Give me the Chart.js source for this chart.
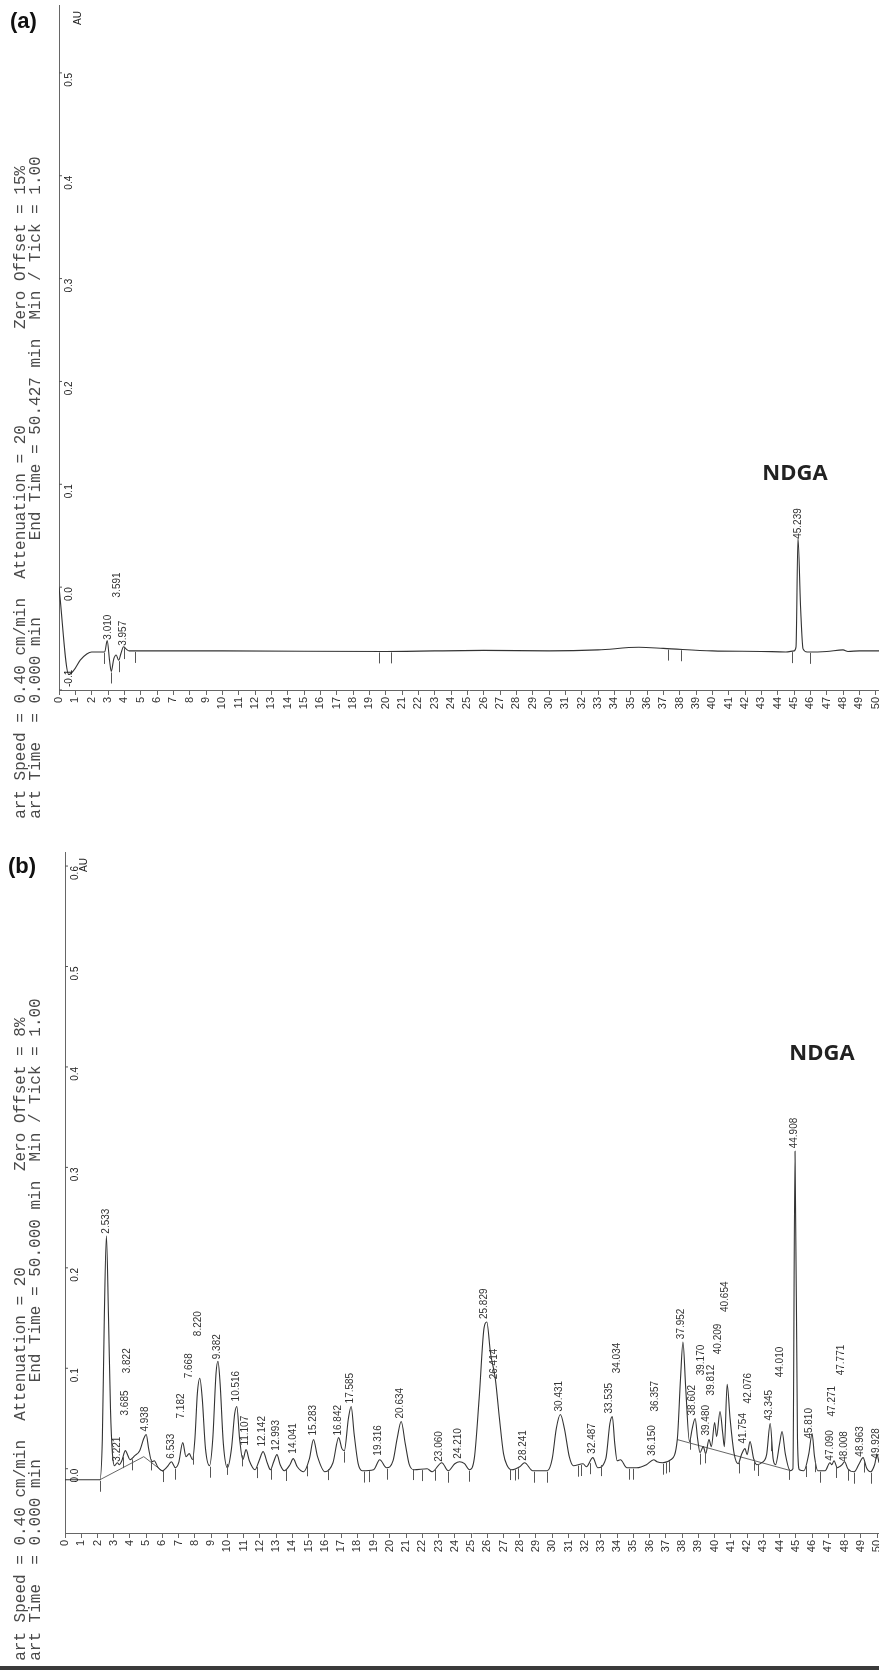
<!DOCTYPE html>
<html><head>
<meta charset="utf-8">
<title>HPLC chromatograms (a) and (b)</title>
<script src="https://cdn.jsdelivr.net/npm/chart.js@4.4.1/dist/chart.umd.min.js"></script>
<style>
  html, body { margin:0; padding:0; background:#fff }
  body { width:879px; height:1670px; position:relative; overflow:hidden }
  canvas { position:absolute; left:0 }
  .panel { position:absolute; left:0; width:879px; overflow:hidden }
  .hdr { position:absolute; white-space:pre; font:16px/16px "Liberation Mono", monospace; color:#4a4a4a;
         transform-origin:0 0; transform:rotate(-90deg) }
  .tag { position:absolute; font:bold 22px "Liberation Sans", Arial, sans-serif; color:#111 }
  .ndga { position:absolute; font:bold 22px "Open Sans", sans-serif; color:#222; transform:translate(-50%,-50%) }
  #edge { position:absolute; left:0; top:1666px; width:879px; height:4px; background:#3a3a3a }
</style>
</head><body>
<canvas id="chartA" width="879" height="760" style="top:0"></canvas>
<canvas id="chartB" width="879" height="760" style="top:840px"></canvas>

<div class="panel" style="top:0;height:819px">
  <div class="tag" style="left:10px;top:8px">(a)</div>
  <div class="hdr" id="a1" style="left:13px;top:838px"></div>
  <div class="hdr" id="a2" style="left:28px;top:838px"></div>
  <div class="ndga" style="left:795px;top:471px">NDGA</div>
</div>
<div class="panel" style="top:835px;height:827px">
  <div class="tag" style="left:8px;top:18px">(b)</div>
  <div class="hdr" id="b1" style="left:13px;top:845px"></div>
  <div class="hdr" id="b2" style="left:28px;top:845px"></div>
  <div class="ndga" style="left:822px;top:216px">NDGA</div>
</div>
<div id="edge"></div>

<script>
// ---- panel (a): standard ----
const timesA  = [0, 0.6, 0.9, 1.3, 1.7, 2.0, 2.8, 2.95, 3.1, 3.2, 3.35, 3.5, 3.65, 3.8, 3.95, 4.1, 4.3,
                 10, 20, 26, 30, 33, 35.5, 37, 40, 43, 44.5, 45.0, 45.12, 45.24, 45.4, 45.55, 45.8,
                 47, 48, 48.3, 49, 50.2];
const signalA = [0.0, -0.085, -0.081, -0.071, -0.065, -0.063, -0.063, -0.052, -0.072, -0.082, -0.07, -0.066,
                 -0.071, -0.064, -0.058, -0.06, -0.062, -0.062, -0.0625, -0.0615, -0.062, -0.061, -0.0585,
                 -0.0595, -0.062, -0.0625, -0.063, -0.062, -0.058, 0.048, -0.02, -0.06, -0.063,
                 -0.0625, -0.061, -0.0625, -0.062, -0.062];
const peaksA      = [3.010, 3.591, 3.957, 45.239];
const peakLabelA  = [-0.052, -0.011, -0.058, 0.046];
const marksA      = [2.75, 3.2, 3.65, 3.97, 4.65, 19.6, 20.35, 37.3, 38.05, 44.9, 46.0];
const yTicksA     = [-0.1, 0.0, 0.1, 0.2, 0.3, 0.4, 0.5];

// ---- panel (b): sample ----
const timesB = [0, 2.15, 2.3, 2.42, 2.55, 2.68, 2.8, 2.92, 3.05, 3.22, 3.35, 3.5, 3.72, 3.85, 4.0, 4.3, 4.6,
  4.85, 5.0, 5.15, 5.35, 5.5, 5.7, 6.0, 6.3, 6.55, 6.8, 7.0, 7.25, 7.45, 7.65, 7.85, 8.0, 8.15, 8.3, 8.45,
  8.65, 8.9, 9.1, 9.3, 9.42, 9.55, 9.75, 10.0, 10.25, 10.45, 10.58, 10.75, 10.95, 11.15, 11.35, 11.7, 11.95,
  12.2, 12.45, 12.65, 12.85, 13.05, 13.25, 13.5, 13.85, 14.05, 14.3, 14.7, 15.05, 15.3, 15.55, 16.0, 16.5,
  16.85, 17.05, 17.2, 17.45, 17.62, 17.8, 18.05, 18.3, 19.0, 19.38, 19.8, 20.2, 20.45, 20.7, 20.95, 21.2,
  21.5, 22.3, 22.6, 23.2, 23.6, 24.0, 24.3, 24.6, 24.9, 25.2, 25.5, 25.8, 25.97, 26.2, 26.5, 26.75, 27.0,
  27.2, 27.5, 28.0, 28.3, 28.8, 29.7, 30.0, 30.25, 30.5, 30.75, 31.05, 31.3, 31.9, 32.1, 32.5, 32.8, 33.3,
  33.55, 33.7, 33.85, 34.0, 34.2, 34.6, 35.2, 35.8, 36.25, 36.45, 36.8, 37.3, 37.7, 37.9, 38.05, 38.22,
  38.45, 38.62, 38.8, 38.95, 39.1, 39.3, 39.45, 39.65, 39.8, 40.0, 40.12, 40.33, 40.5, 40.6, 40.77, 40.95,
  41.2, 41.45, 41.65, 41.87, 42.0, 42.18, 42.4, 42.6, 42.9, 43.2, 43.42, 43.6, 43.75, 44.0, 44.15, 44.35,
  44.65, 44.82, 44.95, 45.1, 45.22, 45.5, 45.8, 46.0, 46.15, 46.35, 46.8, 47.1, 47.22, 47.35, 47.55, 47.85,
  48.0, 48.2, 48.6, 48.9, 49.14, 49.35, 49.6, 49.85, 50.0, 50.12];
const signalB = [-0.011, -0.011, 0.03, 0.15, 0.232, 0.15, 0.06, 0.015, 0.003, 0.006, 0.004, 0.008, 0.018,
  0.014, 0.009, 0.013, 0.018, 0.03, 0.034, 0.02, 0.007, 0.008, 0.002, -0.002, 0.002, 0.007, 0.001, 0.006,
  0.026, 0.012, 0.015, 0.009, 0.03, 0.075, 0.09, 0.07, 0.02, 0.003, 0.03, 0.095, 0.107, 0.085, 0.025, 0.001,
  0.02, 0.055, 0.062, 0.03, 0.009, 0.019, 0.008, -0.001, 0.008, 0.017, 0.006, -0.001, 0.007, 0.014, 0.004,
  -0.002, 0.004, 0.01, 0.002, -0.003, 0.01, 0.029, 0.012, -0.003, 0.006, 0.031, 0.02, 0.018, 0.05, 0.062,
  0.035, 0.005, -0.002, -0.001, 0.009, 0.001, 0.008, 0.03, 0.047, 0.025, 0.004, -0.001, 0.0, -0.003, 0.006,
  -0.002, 0.005, 0.007, 0.005, -0.001, 0.01, 0.07, 0.14, 0.146, 0.115, 0.089, 0.05, 0.015, 0.004, -0.001,
  0.002, 0.006, -0.002, -0.002, 0.01, 0.04, 0.054, 0.04, 0.012, 0.003, 0.005, 0.002, 0.011, 0.001, 0.01,
  0.045, 0.052, 0.025, 0.008, 0.009, 0.001, 0.001, 0.004, 0.009, 0.007, 0.006, 0.009, 0.029, 0.09, 0.126,
  0.08, 0.027, 0.04, 0.05, 0.03, 0.016, 0.022, 0.015, 0.029, 0.022, 0.046, 0.032, 0.057, 0.035, 0.022, 0.084,
  0.05, 0.015, 0.005, 0.014, 0.02, 0.014, 0.027, 0.01, 0.004, 0.006, 0.014, 0.045, 0.01, 0.004, 0.025,
  0.037, 0.015, -0.002, 0.0, 0.316, 0.03, -0.001, -0.002, 0.015, 0.035, 0.012, -0.002, -0.002, 0.006, 0.004,
  0.008, 0.001, 0.004, 0.007, 0.0, -0.003, 0.005, 0.011, 0.001, -0.003, 0.004, 0.014, 0.006];
// straight integration baselines drawn by the integrator (null = break)
const baseTimesB = [2.15, 4.85, 6.05, 6.1, 37.7, 44.7];
const baseValsB  = [-0.011, 0.012, -0.003, null, 0.029, -0.002];
const peaksB = [2.533, 3.221, 3.685, 3.822, 4.938, 6.533, 7.182, 7.668, 8.220, 9.382, 10.516, 11.107, 12.142,
  12.993, 14.041, 15.283, 16.842, 17.585, 19.316, 20.634, 23.060, 24.210, 25.829, 26.414, 28.241, 30.431,
  32.487, 33.535, 34.034, 36.150, 36.357, 37.952, 38.602, 39.170, 39.480, 39.812, 40.209, 40.654, 41.754,
  42.076, 43.345, 44.010, 44.908, 45.810, 47.090, 47.271, 47.771, 48.008, 48.963, 49.928];
const peakLabelB = [0.233, 0.006, 0.052, 0.094, 0.036, 0.009, 0.049, 0.089, 0.131, 0.108, 0.066, 0.022, 0.021,
  0.017, 0.014, 0.032, 0.032, 0.064, 0.012, 0.049, 0.006, 0.009, 0.148, 0.088, 0.007, 0.056, 0.014, 0.054,
  0.094, 0.012, 0.056, 0.128, 0.052, 0.092, 0.032, 0.072, 0.113, 0.155, 0.024, 0.064, 0.047, 0.09, 0.318,
  0.029, 0.007, 0.051, 0.092, 0.006, 0.011, 0.009];
const marksB = [2.15, 3.6, 4.1, 5.3, 6.05, 6.8, 7.9, 8.9, 9.95, 10.9, 11.8, 12.7, 13.6, 14.9, 16.2, 17.2, 18.4,
  18.7, 19.8, 21.4, 22.0, 22.8, 23.6, 24.9, 27.4, 27.7, 27.9, 28.9, 29.7, 31.6, 31.8, 32.3, 33.0, 34.7, 35.0,
  36.8, 37.0, 37.2, 38.5, 39.1, 39.4, 41.5, 42.4, 42.7, 43.5, 44.6, 45.6, 46.2, 46.5, 47.5, 48.2, 48.6, 49.2,
  49.6];
const yTicksB = [0.0, 0.1, 0.2, 0.3, 0.4, 0.5, 0.6];

// printer header lines (monospace, column positions)
function line(segs) { let s = ''; segs.forEach(([txt, col]) => { s = s.padEnd(col) + txt; }); return s; }
document.getElementById('a1').textContent = line([['Chart Speed = 0.40 cm/min', 0], ['Attenuation = 20', 27], ['Zero Offset = 15%', 53]]);
document.getElementById('a2').textContent = line([['Start Time  = 0.000 min', 0], ['End Time = 50.427 min', 31], ['Min / Tick = 1.00', 54]]);
document.getElementById('b1').textContent = line([['Chart Speed = 0.40 cm/min', 0], ['Attenuation = 20', 27], ['Zero Offset = 8%', 53]]);
document.getElementById('b2').textContent = line([['Start Time  = 0.000 min', 0], ['End Time = 50.000 min', 31], ['Min / Tick = 1.00', 54]]);

function valueAt(ts, vs, t) {
  for (let i = 1; i < ts.length; i++) {
    if (t <= ts[i]) { const f = (t - ts[i-1]) / (ts[i] - ts[i-1]); return vs[i-1] + f * (vs[i] - vs[i-1]); }
  }
  return vs[vs.length - 1];
}
function rot(ctx, txt, px, py, align, base) {
  ctx.save(); ctx.translate(px, py); ctx.rotate(-Math.PI / 2);
  ctx.textAlign = align; ctx.textBaseline = base; ctx.fillText(txt, 0, 0); ctx.restore();
}

// draws the printer extras: integration marks, AU tick labels, retention time labels
const printPlugin = {
  id: 'print',
  afterDatasetsDraw(chart, args, o) {
    const { ctx, chartArea: ca, scales: { x, y } } = chart;
    ctx.save();
    ctx.strokeStyle = '#555'; ctx.fillStyle = '#222'; ctx.lineWidth = 1;
    o.marks.forEach(t => {
      const px = Math.round(x.getPixelForValue(t)) + 0.5;
      const py = y.getPixelForValue(valueAt(o.times, o.values, t));
      ctx.beginPath(); ctx.moveTo(px, py + 1); ctx.lineTo(px, py + 12); ctx.stroke();
    });
    ctx.font = '10px "Liberation Sans"';
    o.yTicks.forEach(v => {
      const py = y.getPixelForValue(v);
      ctx.beginPath(); ctx.moveTo(ca.left, py); ctx.lineTo(ca.left + 3, py); ctx.stroke();
      const txt = v.toFixed(1);
      const w = ctx.measureText(txt).width;
      rot(ctx, txt, ca.left + 5, Math.min(py, ca.bottom - 3 - w), 'right', 'top');
    });
    rot(ctx, 'AU', ca.left + 14, ca.top + 20, 'left', 'top');
    ctx.fillStyle = '#333';
    ctx.font = '10px "Liberation Sans"';
    o.peaks.forEach((t, i) => {
      rot(ctx, t.toFixed(3), x.getPixelForValue(t), y.getPixelForValue(o.levels[i]) - 1, 'left', 'middle');
    });
    ctx.restore();
  }
};

function pts(ts, vs) { return ts.map((t, i) => ({ x: t, y: vs[i] })); }

function makeChart(id, c) {
  return new Chart(document.getElementById(id), {
    type: 'line',
    data: { datasets: c.datasets },
    options: {
      responsive: false, animation: false, events: [],
      layout: { padding: { top: c.top, left: 0, right: 0, bottom: 0 }, autoPadding: false },
      plugins: { legend: { display: false }, tooltip: { enabled: false }, print: c.print },
      elements: { point: { radius: 0 }, line: { borderWidth: 1.1, borderColor: '#333', cubicInterpolationMode: 'monotone' } },
      scales: {
        x: {
          type: 'linear', min: 0, max: c.xMax,
          afterFit: s => { s.height = c.xh; s.paddingLeft = 0; s.paddingRight = 0; },
          ticks: { stepSize: 1, autoSkip: false, includeBounds: false, minRotation: 90, maxRotation: 90,
                   padding: 2, color: '#333', font: { family: 'Liberation Sans', size: 11 },
                   callback: v => Math.round(v) },
          grid: { display: true, drawOnChartArea: false, drawTicks: true, tickLength: 5, color: '#666' },
          border: { display: true, color: '#666', width: 1 }
        },
        y: {
          min: c.yMin, max: c.yMax,
          afterFit: s => { s.width = c.yw; s.paddingTop = 0; s.paddingBottom = 0; },
          ticks: { display: false }, grid: { display: false },
          border: { display: true, color: '#666', width: 1 }
        }
      }
    },
    plugins: [printPlugin]
  });
}

makeChart('chartA', {
  top: 5, xh: 70, yw: 59, xMax: 50.2, yMin: -0.1, yMax: 0.566,
  datasets: [{ data: pts(timesA, signalA) }],
  print: { times: timesA, values: signalA, marks: marksA, yTicks: yTicksA, peaks: peaksA, levels: peakLabelA }
});
makeChart('chartB', {
  top: 12, xh: 67, yw: 65, xMax: 50.12, yMin: -0.064, yMax: 0.614,
  datasets: [
    { data: pts(timesB, signalB) },
    { data: pts(baseTimesB, baseValsB), borderWidth: 0.9, borderColor: '#555', cubicInterpolationMode: 'default', tension: 0, spanGaps: false }
  ],
  print: { times: timesB, values: signalB, marks: marksB, yTicks: yTicksB, peaks: peaksB, levels: peakLabelB }
});
</script>
</body></html>
